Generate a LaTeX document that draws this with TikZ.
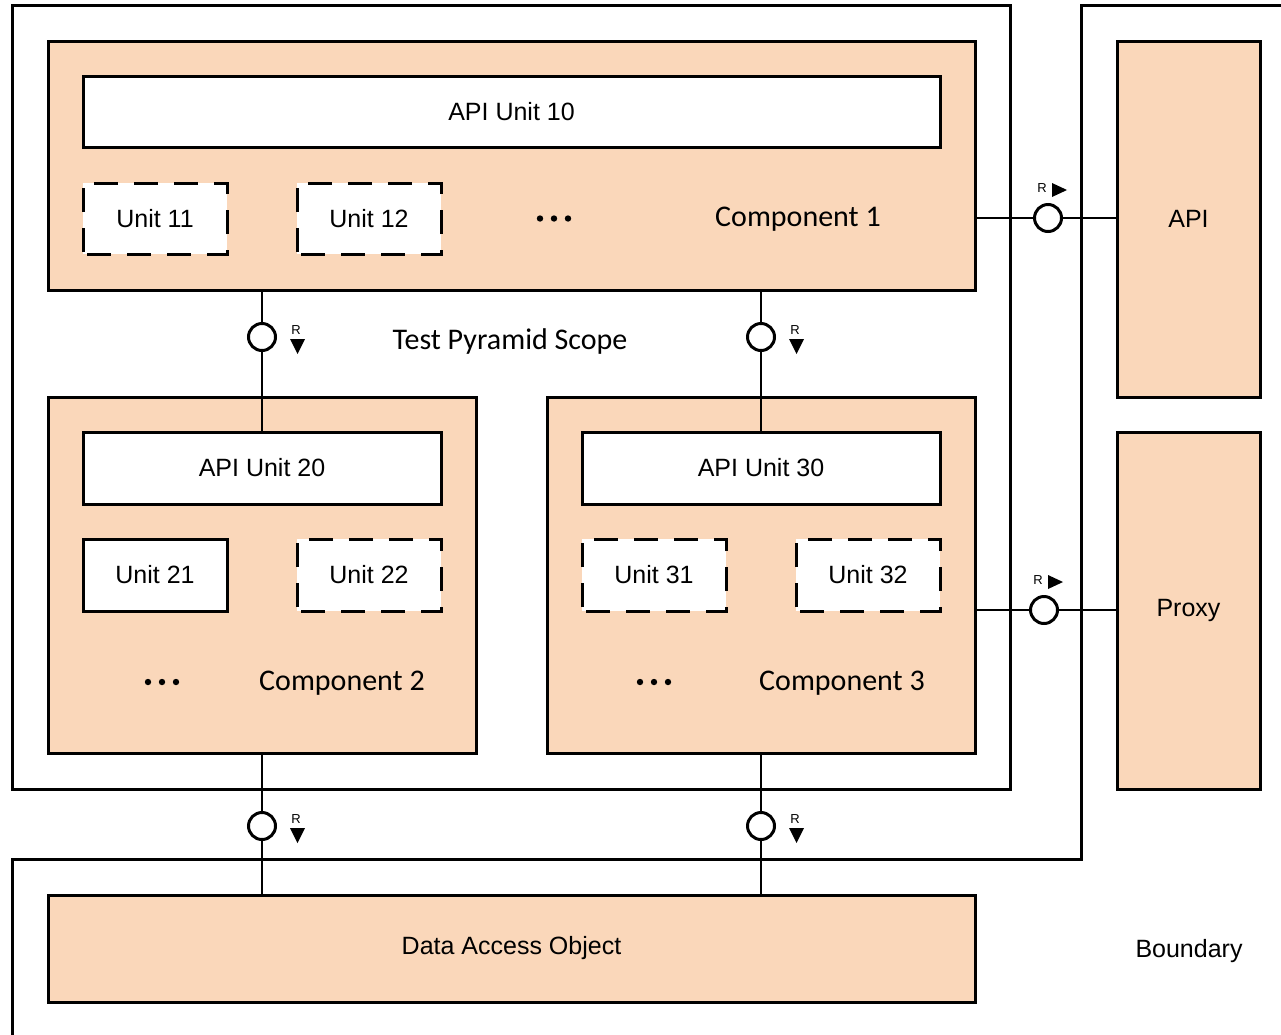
\documentclass[tikz,border=0pt]{standalone}
\usepackage{fontspec}
\setmainfont{Liberation Sans}
\newfontfamily\calibri{Carlito}
\definecolor{peach}{RGB}{250,215,186}
\tikzset{
  frame/.style={draw, line width=3pt, fill=white, inner sep=0pt},
  comp/.style={draw, line width=3pt, fill=peach, inner sep=0pt},
  unitbox/.style={draw, line width=3pt, fill=white, inner sep=0pt,
    font=\fontsize{25}{29}\selectfont},
  dashbox/.style={unitbox, dash pattern=on 24pt off 16pt, dash phase=-4pt},
  sidebox/.style={comp, font=\fontsize{25}{29}\selectfont},
  conn/.style={line width=2pt},
  iface/.style={circle, draw, line width=3pt, fill=white, minimum size=27pt, inner sep=0pt},
  rlab/.style={font=\fontsize{13}{15}\selectfont, inner sep=0pt},
  ctitle/.style={font=\calibri\fontsize{30}{34}\selectfont, inner sep=0pt},
  plain/.style={font=\fontsize{25}{29}\selectfont, inner sep=0pt},
}
\begin{document}
\begin{tikzpicture}[x=1pt,y=-1pt]
\useasboundingbox[fill=white] (0,0) rectangle (1281,1034);
\clip (0,0) rectangle (1281,1034);

% boundary outline
\draw[line width=3pt, line join=miter] (1300,5) -- (1081,5) -- (1081,859) -- (12,859) -- (12,1050);

% test pyramid scope frame
\node[frame, minimum width=998pt, minimum height=784pt] (scope) at (511,397) {};

% components
\node[comp, minimum width=927pt, minimum height=249pt] (c1) at (511.5,165.5) {};
\node[comp, minimum width=428pt, minimum height=356pt] (c2) at (262,575) {};
\node[comp, minimum width=428pt, minimum height=356pt] (c3) at (761,575) {};
\node[sidebox, minimum width=143pt, minimum height=356pt] (api) at (1188.5,219) {API};
\node[sidebox, minimum width=143pt, minimum height=357pt] (proxy) at (1188.5,610.5) {Proxy};
\node[sidebox, minimum width=927pt, minimum height=107pt] (dao) at (511.5,948.5) {Data Access Object};

% units
\node[unitbox, minimum width=857pt, minimum height=71pt] (a10) at (511.5,111.5) {API Unit 10};
\node[dashbox, minimum width=144pt, minimum height=71pt] (u11) at (155,218.5) {Unit 11};
\node[dashbox, minimum width=144pt, minimum height=71pt] (u12) at (369,218.5) {Unit 12};
\node[unitbox, minimum width=358pt, minimum height=72pt] (a20) at (262,468) {API Unit 20};
\node[unitbox, minimum width=144pt, minimum height=72pt] (u21) at (155,575) {Unit 21};
\node[dashbox, minimum width=144pt, minimum height=72pt] (u22) at (369,575) {Unit 22};
\node[unitbox, minimum width=358pt, minimum height=72pt] (a30) at (761,468) {API Unit 30};
\node[dashbox, minimum width=144pt, minimum height=72pt] (u31) at (654,575) {Unit 31};
\node[dashbox, minimum width=144pt, minimum height=72pt] (u32) at (868,575) {Unit 32};

% titles
\node[ctitle] (t1) at (798,219.5) {Component 1};
\node[ctitle] (t2) at (342,683.5) {Component 2};
\node[ctitle] (t3) at (842,683.5) {Component 3};
\node[ctitle] (tscope) at (510,341.5) {Test Pyramid Scope};
\node[plain] (tbound) at (1189,951) {Boundary};

% ellipses
\foreach \x/\y in {540/218.5, 554/218.5, 568/218.5, 148/682, 162/682, 176/682, 640/682, 654/682, 668/682}
  \fill (\x,\y) circle (3.2pt);

% required interfaces
\node[iface] (i1) at (262,337) {};
\node[iface] (i2) at (761,337) {};
\node[iface] (i3) at (1048,218) {};
\node[iface] (i4) at (1044,610) {};
\node[iface] (i5) at (262,826) {};
\node[iface] (i6) at (761,826) {};

% connectors
\draw[conn] (i1.north) -- (i1 |- c1.south);
\draw[conn] (i1.south) -- (i1 |- a20.north);
\draw[conn] (i2.north) -- (i2 |- c1.south);
\draw[conn] (i2.south) -- (i2 |- a30.north);
\draw[conn] (i3.west) -- (c1.east |- i3);
\draw[conn] (i3.east) -- (api.west |- i3);
\draw[conn] (i4.west) -- (c3.east |- i4);
\draw[conn] (i4.east) -- (proxy.west |- i4);
\draw[conn] (i5.north) -- (i5 |- c2.south);
\draw[conn] (i5.south) -- (i5 |- dao.north);
\draw[conn] (i6.north) -- (i6 |- c3.south);
\draw[conn] (i6.south) -- (i6 |- dao.north);

% direction marks
\foreach \n in {i1,i2,i5,i6} {
  \node[rlab] (\n r) at ([xshift=34pt,yshift=7pt]\n.center) {R};
  \fill ([xshift=28pt,yshift=-2pt]\n.center) -- ++(15,0) -- ++(-7.5,15) -- cycle;
}
\foreach \n in {i3,i4} {
  \node[rlab] (\n r) at ([xshift=-6pt,yshift=30pt]\n.center) {R};
  \fill ([xshift=4pt,yshift=35pt]\n.center) -- ++(0,14) -- ++(15,-7) -- cycle;
}
\end{tikzpicture}
\end{document}
